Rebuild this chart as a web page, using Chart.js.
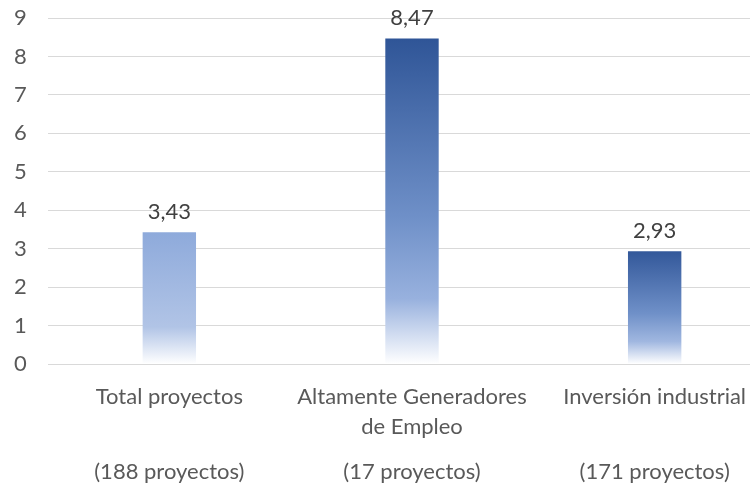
<!DOCTYPE html>
<html>
<head>
<meta charset="utf-8">
<script src="https://cdn.jsdelivr.net/npm/chart.js@4/dist/chart.umd.min.js"></script>
<style>
    body { margin: 0; overflow: hidden; background: #ffffff; }
    #wrap { width: 776px; height: 486px; }
</style>
</head>
<body>
<div id="wrap"><canvas id="barChart"></canvas></div>
<script>
// =====================================
// DATA
// =====================================
const categoryNames = [
    ["Total proyectos"],
    ["Altamente Generadores", "de Empleo"],
    ["Inversión industrial"]
];
const projectCounts = ["(188 proyectos)", "(17 proyectos)", "(171 proyectos)"];
const values = [3.43, 8.47, 2.93];
const yTicks = [0, 1, 2, 3, 4, 5, 6, 7, 8, 9];

// =====================================
// STYLE
// =====================================
const FONT = "Lato, 'Open Sans', sans-serif";
const TEXT_COLOR = "#595959";
const barStops = [
    [[0, "#8eaadb"], [0.72, "#b1c4e6"], [1, "#ffffff"]],
    [[0, "#2f5597"], [0.55, "#6f90c8"], [0.8, "#98b1de"], [1, "#ffffff"]],
    [[0, "#33589a"], [0.55, "#6f90c8"], [0.8, "#a0b7e0"], [1, "#ffffff"]]
];

// tick label lines: name, (wrap), blank space, count
const tickLabels = categoryNames.map((name, i) =>
    [name[0], "", name[1] || "", "", "", projectCounts[i]]);

function barGradient(context) {
    const chart = context.chart;
    if (!chart.chartArea) return "#8eaadb";
    const y = chart.scales.y;
    const top = y.getPixelForValue(values[context.dataIndex]);
    const bottom = y.getPixelForValue(0);
    const g = chart.ctx.createLinearGradient(0, top, 0, bottom);
    barStops[context.dataIndex].forEach(s => g.addColorStop(s[0], s[1]));
    return g;
}

// value labels above bars
const valueLabels = {
    id: "valueLabels",
    afterDatasetsDraw(chart) {
        const ctx = chart.ctx;
        const meta = chart.getDatasetMeta(0);
        ctx.save();
        ctx.font = "22px " + FONT;
        ctx.fillStyle = "#404040";
        ctx.textAlign = "center";
        ctx.textBaseline = "alphabetic";
        meta.data.forEach((bar, i) => {
            ctx.fillText(values[i].toFixed(2).replace(".", ","), bar.x, bar.y - 13);
        });
        ctx.restore();
    }
};

// =====================================
// CHART
// =====================================
new Chart(document.getElementById("barChart"), {
    type: "bar",
    data: {
        labels: tickLabels,
        datasets: [{
            data: values,
            backgroundColor: barGradient,
            borderWidth: 0,
            barPercentage: 0.44,
            categoryPercentage: 0.5
        }]
    },
    options: {
        responsive: true,
        maintainAspectRatio: false,
        animation: false,
        layout: { padding: { top: 18, right: 0, bottom: 0, left: 14 } },
        plugins: {
            legend: { display: false },
            tooltip: { enabled: false }
        },
        scales: {
            y: {
                min: 0,
                max: 9,
                afterFit(scale) { scale.width = 34; },
                afterBuildTicks(scale) { scale.ticks = yTicks.map(v => ({ value: v })); },
                border: { display: false },
                grid: { color: "#d9d9d9", lineWidth: 1, drawTicks: false },
                ticks: {
                    padding: 0,
                    crossAlign: "far",
                    color: TEXT_COLOR,
                    font: { family: FONT, size: 22 }
                }
            },
            x: {
                afterFit(scale) { scale.height = 122; },
                border: { display: true, color: "#d9d9d9" },
                grid: { display: false, drawTicks: false },
                ticks: {
                    padding: 25,
                    maxRotation: 0,
                    autoSkip: false,
                    color: TEXT_COLOR,
                    font: { family: FONT, size: 22, lineHeight: "15px" }
                }
            }
        }
    },
    plugins: [valueLabels]
});
</script>
</body>
</html>
